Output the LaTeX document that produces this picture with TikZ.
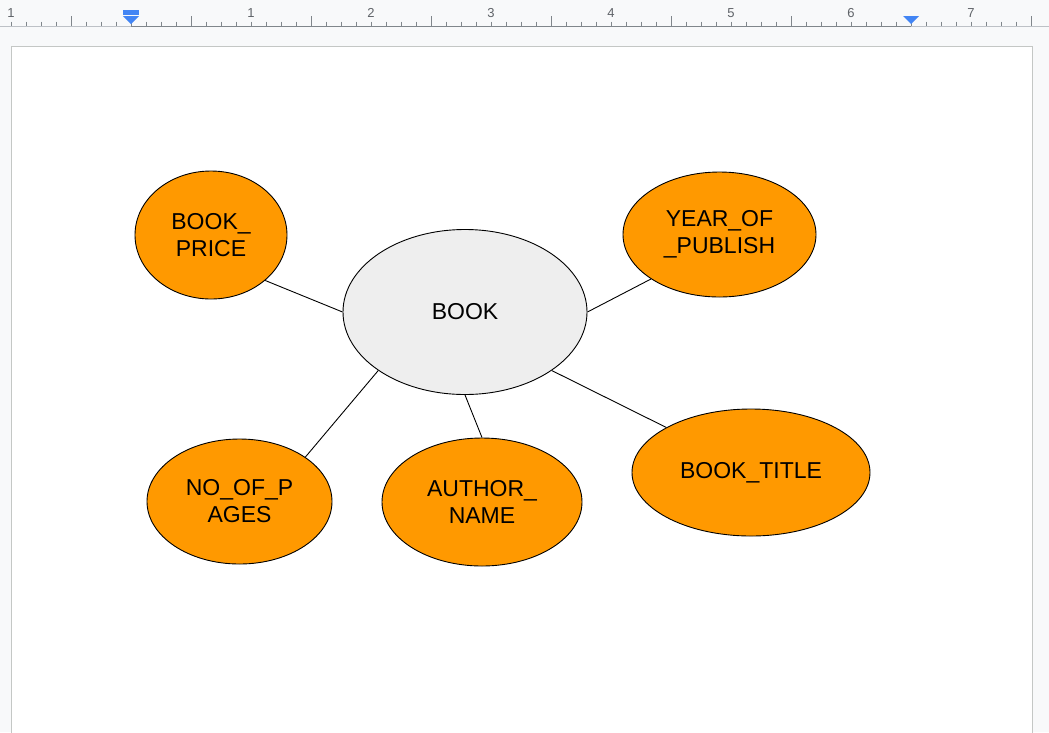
\documentclass[tikz,border=0pt]{standalone}
\usepackage{fontspec}
\setmainfont{Liberation Sans}
\usetikzlibrary{shapes.geometric}

\definecolor{attrorange}{HTML}{FF9900}
\definecolor{entitygray}{HTML}{EEEEEE}
\definecolor{docbg}{HTML}{F8F9FA}
\definecolor{rulerdark}{HTML}{80868B}
\definecolor{rulerlight}{HTML}{BDC1C6}
\definecolor{rulertext}{HTML}{5F6368}
\definecolor{pageedge}{HTML}{C4C7C5}
\definecolor{marker}{HTML}{4285F4}

\tikzset{
  bubble/.style={ellipse, draw=black, line width=0.9pt, inner sep=0pt, align=center,
    font=\fontsize{23}{27}\selectfont},
  entity/.style={bubble, fill=entitygray},
  attribute/.style={bubble, fill=attrorange},
  link/.style={line width=0.9pt}
}

\begin{document}
\begin{tikzpicture}[x=1pt, y=-1pt]

% Background and page
\fill[docbg] (0,0) rectangle (1049,732);
\useasboundingbox (0,0) rectangle (1049,732);
\fill[white, draw=pageedge, line width=1pt] (11,46) rectangle (1032,740);

% Ruler
\draw[rulerlight, line width=1pt] (0,26) -- (1049,26);
\draw[rulerdark, line width=1pt] (131,26) -- (911,26);
\foreach \k in {0,...,68} {
  \pgfmathtruncatemacro{\pos}{mod(\k,8)}
  \pgfmathsetmacro{\tx}{11+15*\k}
  \ifnum\pos=4
    \draw[rulerdark, line width=1pt] (\tx,16) -- (\tx,26);
  \else
    \draw[rulerdark, line width=1pt] (\tx,21.5) -- (\tx,26);
  \fi
}
\node[font=\fontsize{13}{15}\selectfont, text=rulertext, inner sep=0pt] (r0) at (11,13) {1};
\foreach \n in {1,...,7}
  \node[font=\fontsize{13}{15}\selectfont, text=rulertext, inner sep=0pt] (r\n) at (131+120*\n,13) {\n};

% Margin markers
\fill[marker] (123,10) rectangle (139,14.5);
\fill[marker] (123,16) -- (139,16) -- (131,24) -- cycle;
\fill[marker] (903,16) -- (919,16) -- (911,24) -- cycle;

% Entity and attributes
\node[entity, minimum width=244pt, minimum height=165pt] (book) at (465,312) {BOOK};
\node[attribute, minimum width=152pt, minimum height=128pt] (price) at (211,235) {BOOK\_\\PRICE};
\node[attribute, minimum width=193pt, minimum height=125pt] (year) at (719.5,234.5) {YEAR\_OF\\\_PUBLISH};
\node[attribute, minimum width=185pt, minimum height=125pt] (pages) at (239.5,501.5) {NO\_OF\_P\\AGES};
\node[attribute, minimum width=200pt, minimum height=128pt] (author) at (482,502) {AUTHOR\_\\NAME};
\node[attribute, minimum width=238pt, minimum height=127pt] (title) at (751,472.5) {BOOK\_TITLE};

% Connectors
\draw[link] (book.180) -- (price.-40);
\draw[link] (book.0) -- (year.-147);
\draw[link] (book.-146) -- (pages.34);
\draw[link] (book.south) -- (author.north);
\draw[link] (book.-34) -- (title.152);

\end{tikzpicture}
\end{document}
